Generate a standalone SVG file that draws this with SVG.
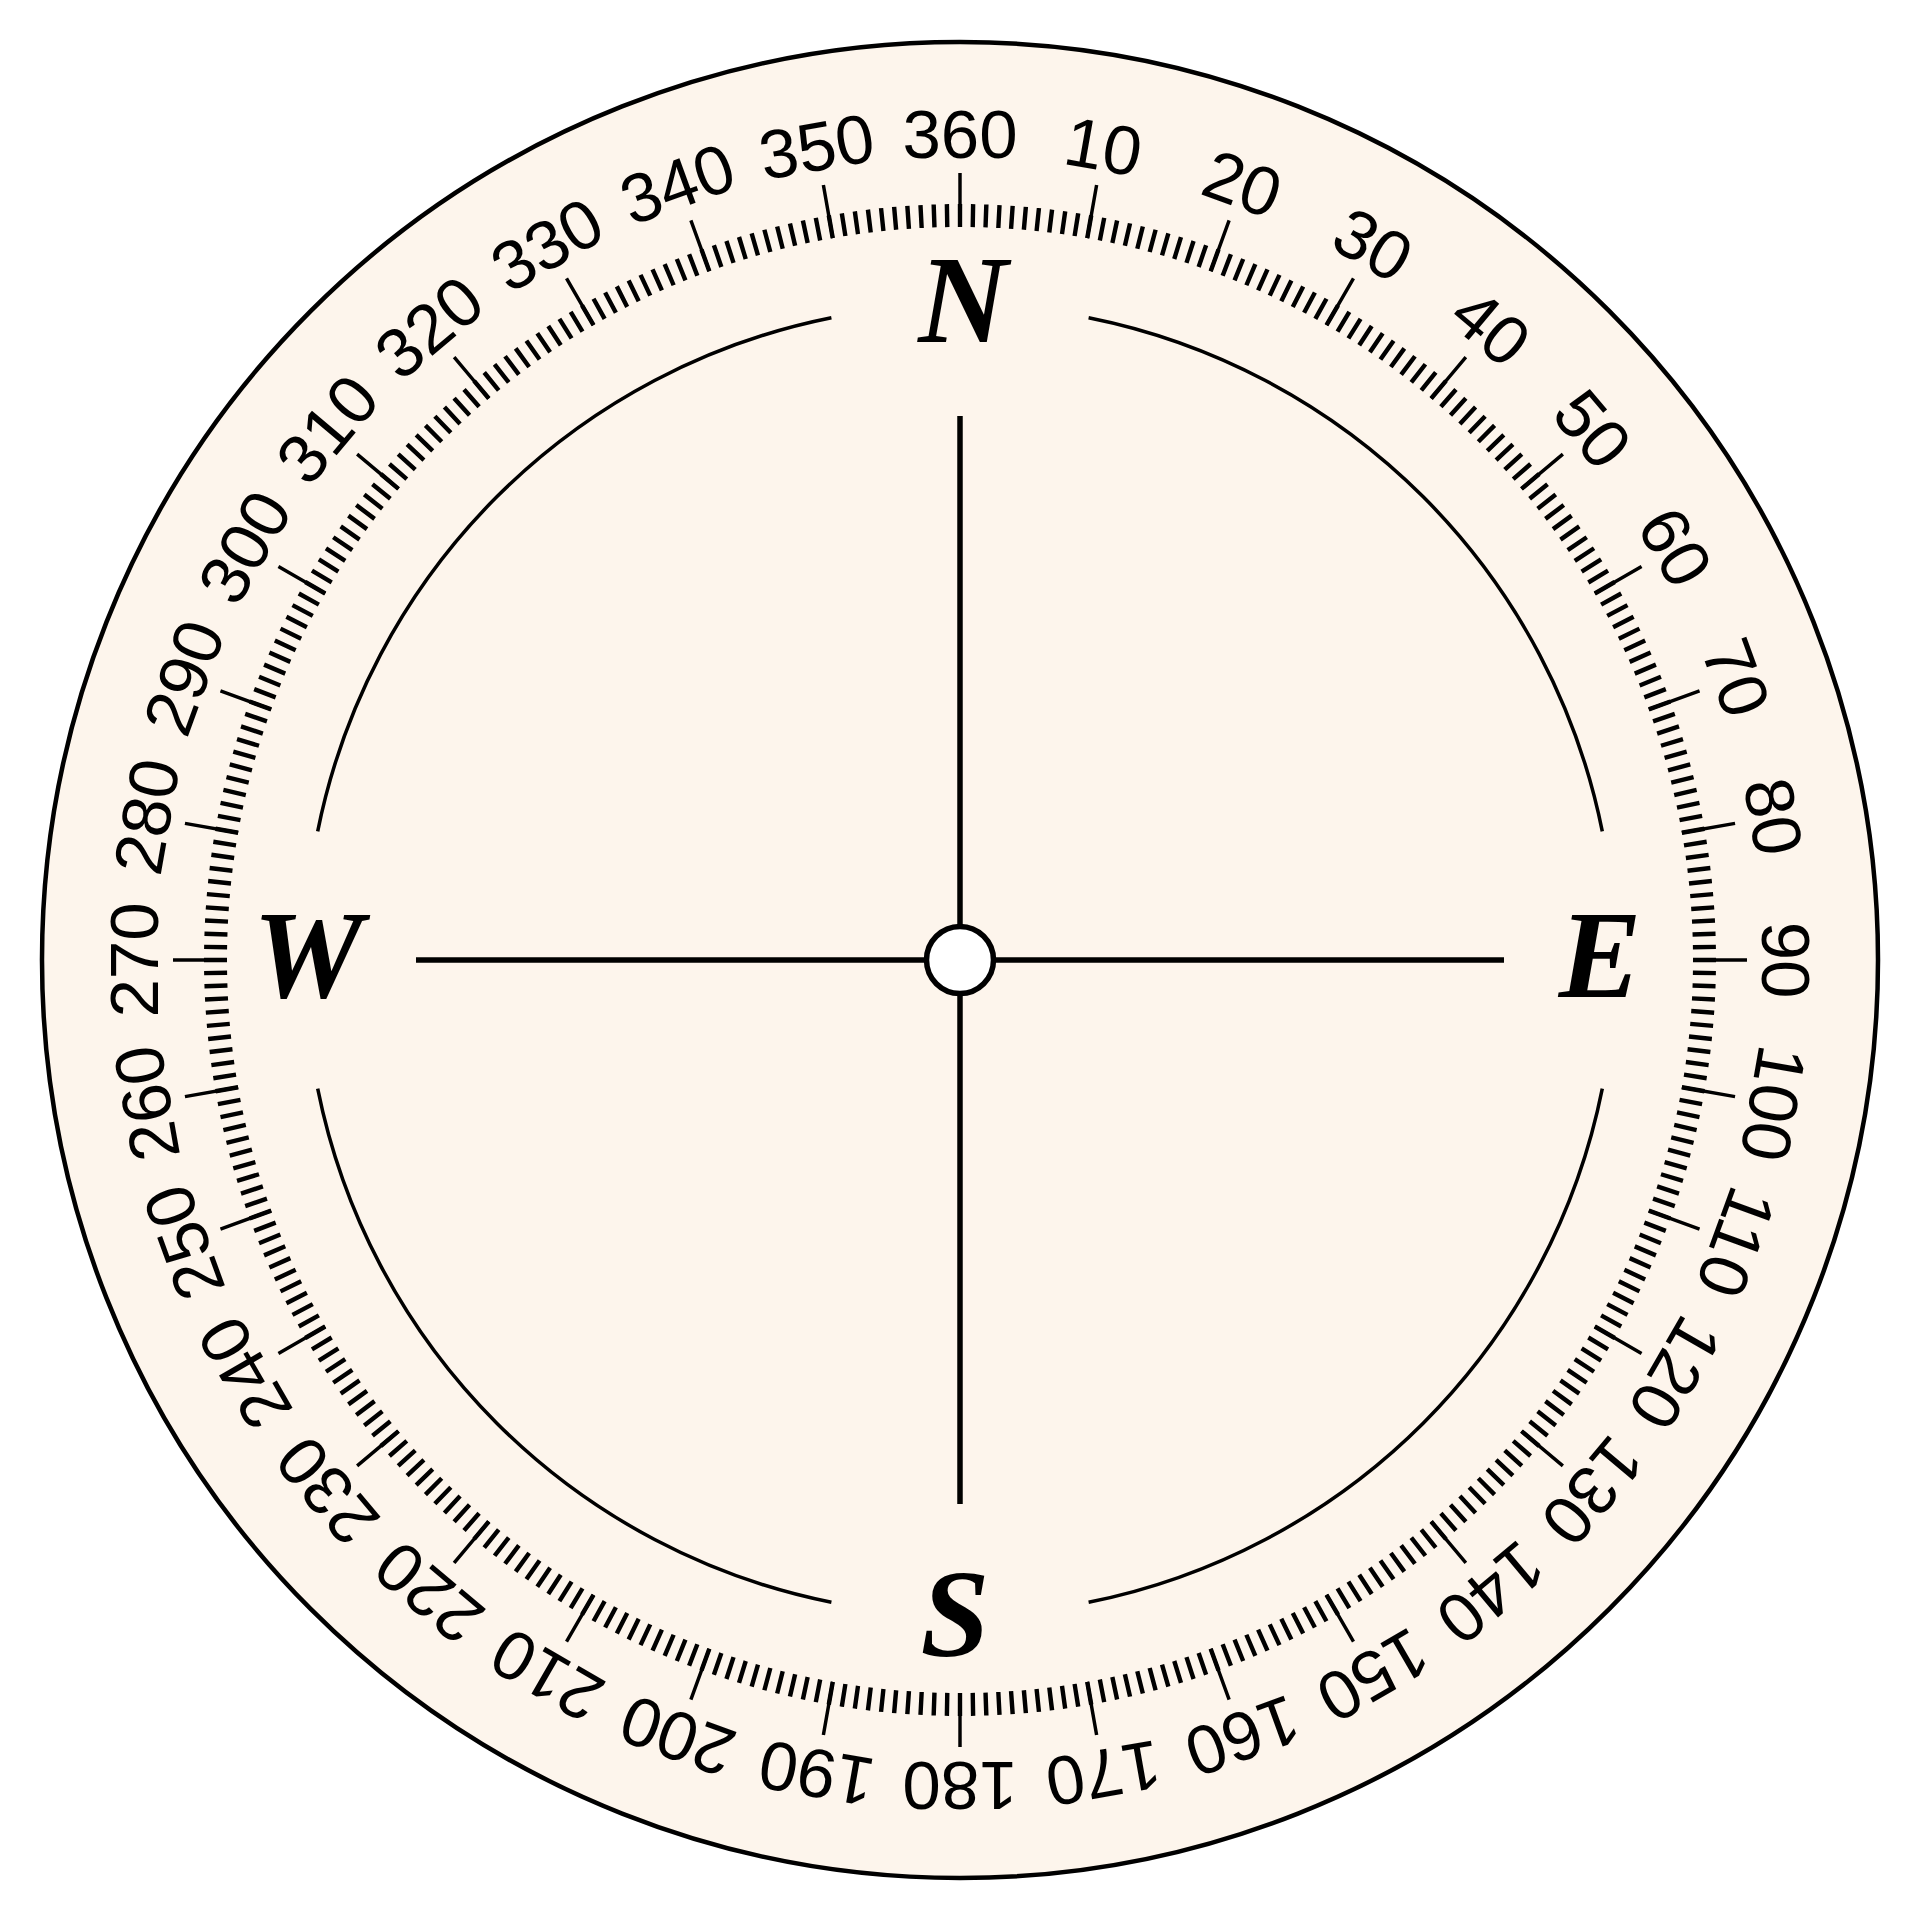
<svg xmlns="http://www.w3.org/2000/svg" width="1920" height="1920" viewBox="0 0 1920 1920">
<style>
.num{font-family:"Liberation Sans",Arial,Helvetica,sans-serif;font-size:69px;fill:#000;text-anchor:middle}
.card{font-family:"Liberation Serif","Times New Roman",Times,serif;font-size:124px;font-weight:bold;font-style:italic;fill:#000;text-anchor:middle}
.arc{fill:none;stroke:#000;stroke-width:3.5}
.cross{stroke:#000;stroke-width:5.5;fill:none}
</style>
<rect width="1920" height="1920" fill="#ffffff"/>
<g id="dial">
<circle cx="960" cy="960" r="918" fill="#fdf5ec" stroke="#000" stroke-width="4.5"/>
</g>
<g id="ticks">
<circle cx="960" cy="960" r="744.5" fill="none" stroke="#000" stroke-width="23" pathLength="360" stroke-dasharray="0.34 0.66" stroke-dashoffset="0.17"/>
<circle cx="960" cy="960" r="760" fill="none" stroke="#000" stroke-width="54" pathLength="360" stroke-dasharray="0.26 9.74" stroke-dashoffset="0.13"/>
</g>
<g id="labels">
<text class="num" x="960" y="158">360</text>
<text class="num" x="960" y="158" transform="rotate(10 960 960)">10</text>
<text class="num" x="960" y="158" transform="rotate(20 960 960)">20</text>
<text class="num" x="960" y="158" transform="rotate(30 960 960)">30</text>
<text class="num" x="960" y="158" transform="rotate(40 960 960)">40</text>
<text class="num" x="960" y="158" transform="rotate(50 960 960)">50</text>
<text class="num" x="960" y="158" transform="rotate(60 960 960)">60</text>
<text class="num" x="960" y="158" transform="rotate(70 960 960)">70</text>
<text class="num" x="960" y="158" transform="rotate(80 960 960)">80</text>
<text class="num" x="960" y="158" transform="rotate(90 960 960)">90</text>
<text class="num" x="960" y="158" transform="rotate(100 960 960)">100</text>
<text class="num" x="960" y="158" transform="rotate(110 960 960)">110</text>
<text class="num" x="960" y="158" transform="rotate(120 960 960)">120</text>
<text class="num" x="960" y="158" transform="rotate(130 960 960)">130</text>
<text class="num" x="960" y="158" transform="rotate(140 960 960)">140</text>
<text class="num" x="960" y="158" transform="rotate(150 960 960)">150</text>
<text class="num" x="960" y="158" transform="rotate(160 960 960)">160</text>
<text class="num" x="960" y="158" transform="rotate(170 960 960)">170</text>
<text class="num" x="960" y="158" transform="rotate(180 960 960)">180</text>
<text class="num" x="960" y="158" transform="rotate(190 960 960)">190</text>
<text class="num" x="960" y="158" transform="rotate(200 960 960)">200</text>
<text class="num" x="960" y="158" transform="rotate(210 960 960)">210</text>
<text class="num" x="960" y="158" transform="rotate(220 960 960)">220</text>
<text class="num" x="960" y="158" transform="rotate(230 960 960)">230</text>
<text class="num" x="960" y="158" transform="rotate(240 960 960)">240</text>
<text class="num" x="960" y="158" transform="rotate(250 960 960)">250</text>
<text class="num" x="960" y="158" transform="rotate(260 960 960)">260</text>
<text class="num" x="960" y="158" transform="rotate(270 960 960)">270</text>
<text class="num" x="960" y="158" transform="rotate(280 960 960)">280</text>
<text class="num" x="960" y="158" transform="rotate(290 960 960)">290</text>
<text class="num" x="960" y="158" transform="rotate(300 960 960)">300</text>
<text class="num" x="960" y="158" transform="rotate(310 960 960)">310</text>
<text class="num" x="960" y="158" transform="rotate(320 960 960)">320</text>
<text class="num" x="960" y="158" transform="rotate(330 960 960)">330</text>
<text class="num" x="960" y="158" transform="rotate(340 960 960)">340</text>
<text class="num" x="960" y="158" transform="rotate(350 960 960)">350</text>
</g>
<g id="inner-arcs">
<path class="arc" d="M1088.6 317.7 A655 655 0 0 1 1602.3 831.4"/>
<path class="arc" d="M1602.3 1088.6 A655 655 0 0 1 1088.6 1602.3"/>
<path class="arc" d="M831.4 1602.3 A655 655 0 0 1 317.7 1088.6"/>
<path class="arc" d="M317.7 831.4 A655 655 0 0 1 831.4 317.7"/>
</g>
<g id="cross">
<line class="cross" x1="960" y1="416" x2="960" y2="926.5"/>
<line class="cross" x1="960" y1="993.5" x2="960" y2="1504"/>
<line class="cross" x1="416" y1="960" x2="926.5" y2="960"/>
<line class="cross" x1="993.5" y1="960" x2="1504" y2="960"/>
</g>
<g id="hub">
<circle cx="960" cy="960" r="33.5" fill="#ffffff" stroke="#000" stroke-width="5.5"/>
</g>
<g id="N"><text class="card" x="963" y="342">N</text></g>
<g id="E"><text class="card" x="1600" y="997">E</text></g>
<g id="S"><text class="card" x="955" y="1656">S</text></g>
<g id="W"><text class="card" x="308" y="997">W</text></g>
</svg>
